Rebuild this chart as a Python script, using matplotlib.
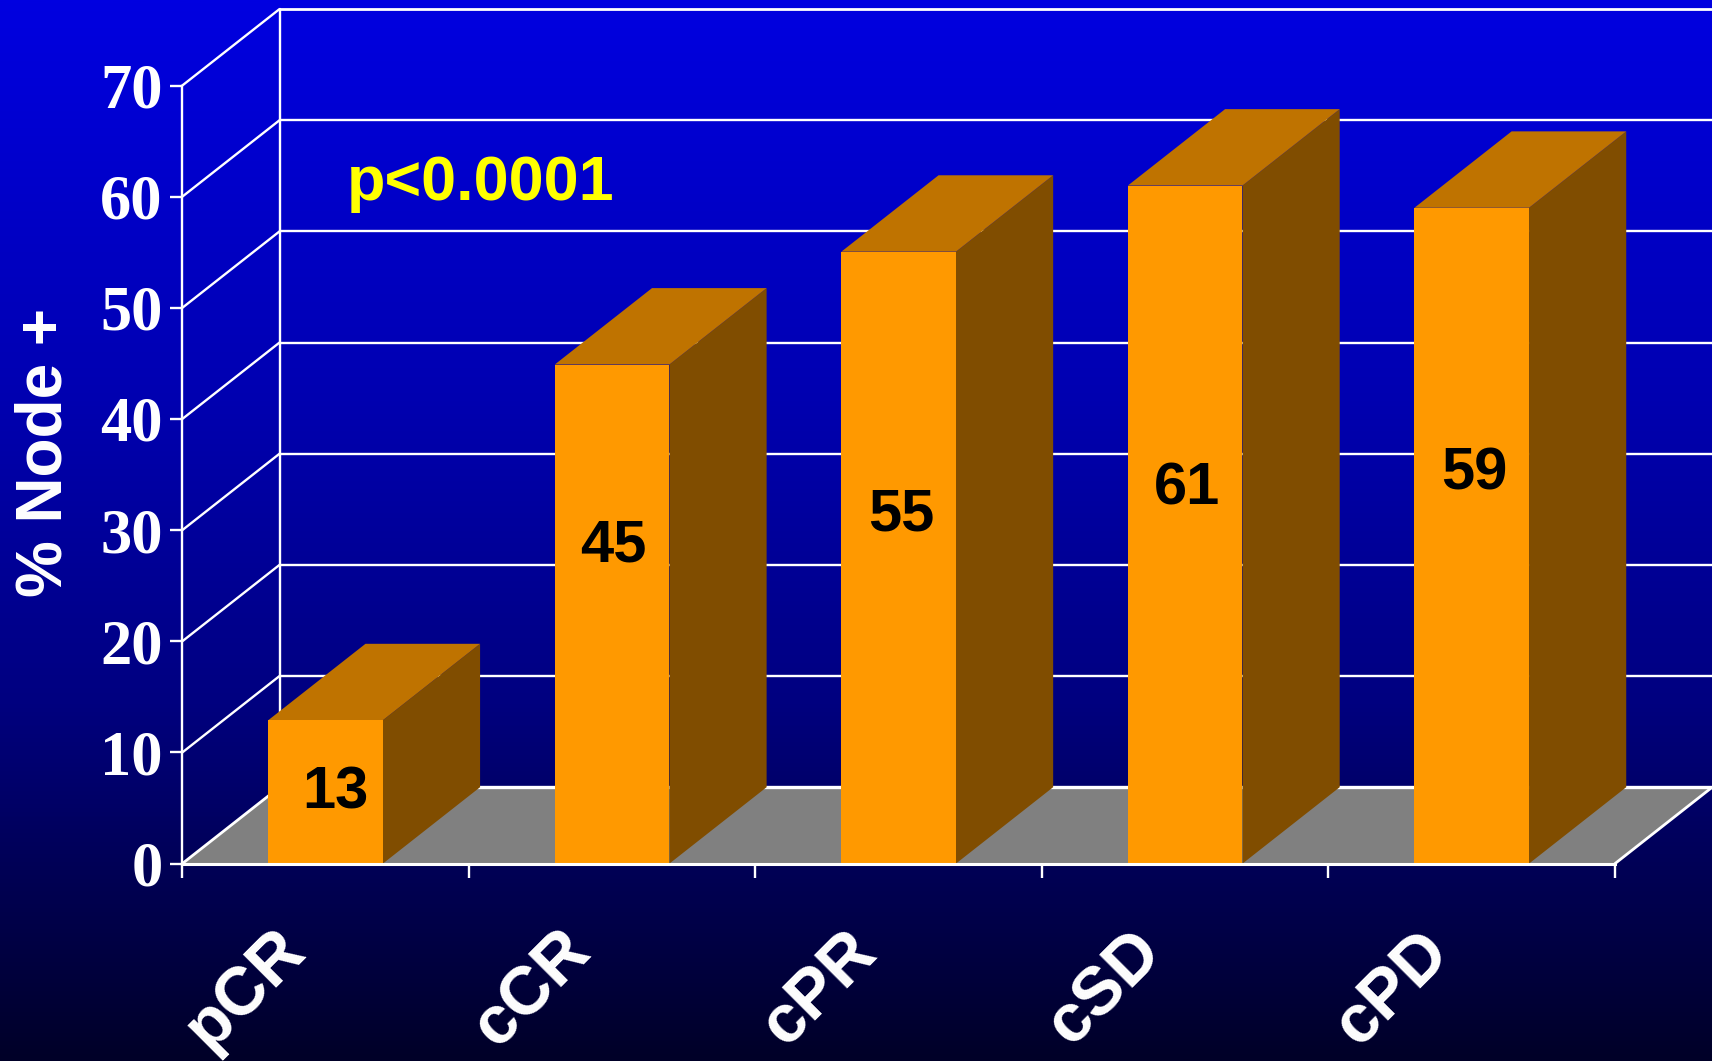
import numpy as np
import matplotlib
matplotlib.use("Agg")
import matplotlib.pyplot as plt
from matplotlib.patches import Polygon
from matplotlib.transforms import ScaledTranslation
from matplotlib.colors import LinearSegmentedColormap

categories = ["pCR", "cCR", "cPR", "cSD", "cPD"]
values = [12.9, 44.9, 55.05, 61.0, 59.0]
value_labels = ["13", "45", "55", "61", "59"]
label_x = [0.534, 1.505, 2.508, 3.506, 4.51]
label_y = [6.35, 28.55, 31.35, 33.7, 35.05]
y_ticks = [0, 10, 20, 30, 40, 50, 60, 70]
ylabel = "% Node +"
annotation = "p<0.0001"

W, H = 1712, 1061
DPI = 100
X0, X5, Y0, Y70 = 182.3, 1615.0, 863.6, 85.5
DX = 97.2 / ((X5 - X0) / 5)
DY = 76.4 / ((Y0 - Y70) / 70)
BAR_W = 0.40
FRONT, TOP, SIDE = "#FF9900", "#BF7300", "#804D00"
SANS, SERIF = "Liberation Sans", "Liberation Serif"

fig = plt.figure(figsize=(W / DPI, H / DPI), dpi=DPI)

bg = fig.add_axes([0, 0, 1, 1], zorder=0)
bg.axis("off")
cmap = LinearSegmentedColormap.from_list(
    "bg", [(0, "#0000E0"), (0.377, "#0000B0"), (0.66, "#000080"), (0.81, "#000058"), (1, "#000028")])
bg.imshow(np.linspace(0, 1, 512)[:, None], aspect="auto", cmap=cmap, extent=[0, 1, 0, 1])

ax = fig.add_axes([X0 / W, 1 - Y0 / H, (X5 - X0) / W, (Y0 - Y70) / H], zorder=1)
ax.set_facecolor("none")
ax.set_xlim(0, 5)
ax.set_ylim(0, 70)

LW = 1.7
def poly(pts, color, z):
    ax.add_patch(Polygon(pts, closed=True, facecolor=color, edgecolor="none", clip_on=False, zorder=z))
def line(xs, ys, lw=LW, z=2):
    ax.plot(xs, ys, color="white", lw=lw, clip_on=False, zorder=z, solid_capstyle="round")

# floor
poly([(0, 0), (5, 0), (5 + DX, DY), (DX, DY)], "#808080", 1)
# walls and gridlines
for t in y_ticks[1:]:
    line([0, DX], [t, t + DY])
    line([DX, 5 + DX], [t + DY, t + DY], lw=LW if t < 70 else 2.0)
line([DX, DX], [DY, 70 + DY])
line([0, DX], [0, DY], lw=2.0, z=3)
line([DX, 5 + DX], [DY, DY], lw=2.4, z=3)
line([5, 5 + DX], [0, DY], lw=2.0, z=3)

# bars
for i, v in enumerate(values):
    l, r = i + 0.5 - BAR_W / 2, i + 0.5 + BAR_W / 2
    poly([(r, 0), (r + DX, DY), (r + DX, v + DY), (r, v)], SIDE, 4)
    poly([(l, v), (r, v), (r + DX, v + DY), (l + DX, v + DY)], TOP, 4)
    poly([(l, 0), (r, 0), (r, v), (l, v)], FRONT, 5)

for s, x, y in zip(value_labels, label_x, label_y):
    ax.text(x, y, s, color="black", family=SANS, weight="bold", fontsize=43,
            ha="center", va="center", zorder=6)

ax.text((347 - X0) / ((X5 - X0) / 5), (Y0 - 200) / ((Y0 - Y70) / 70), annotation,
        color="#FFFF00", family=SANS, weight="bold", fontsize=45.3,
        ha="left", va="baseline", zorder=6)

# axes, ticks, labels
for s in ("top", "right"):
    ax.spines[s].set_visible(False)
for s in ("left", "bottom"):
    ax.spines[s].set_color("white")
    ax.spines[s].set_linewidth(LW)
    ax.spines[s].set_zorder(7)
ax.spines["bottom"].set_linewidth(2.2)

ax.set_yticks(y_ticks)
ax.set_yticklabels([str(t) for t in y_ticks], family=SERIF, weight="bold", fontsize=45, color="white")
ax.tick_params(axis="y", color="white", length=9, width=LW, pad=5)
ax.set_xticks(range(6))
ax.set_xticklabels([])
ax.tick_params(axis="x", which="major", color="white", length=10, width=LW)
ax.set_xticks(np.arange(len(categories)) + 0.5, minor=True)
ax.set_xticklabels(categories, minor=True, family=SANS, weight="bold", fontsize=49, color="white")
ax.tick_params(axis="x", which="minor", length=0, pad=90, labelrotation=45)
shift = ScaledTranslation(-80 / DPI, 0, fig.dpi_scale_trans)
for lab in ax.get_xticklabels(minor=True):
    lab.set_ha("center")
    lab.set_va("center")
    lab.set_transform(lab.get_transform() + shift)

fig.text(45 / W, 1 - 452 / H, ylabel, rotation=90, color="white", family=SANS, weight="bold",
         fontsize=46, ha="center", va="center", zorder=3)

fig.savefig("out.png", dpi=DPI)
